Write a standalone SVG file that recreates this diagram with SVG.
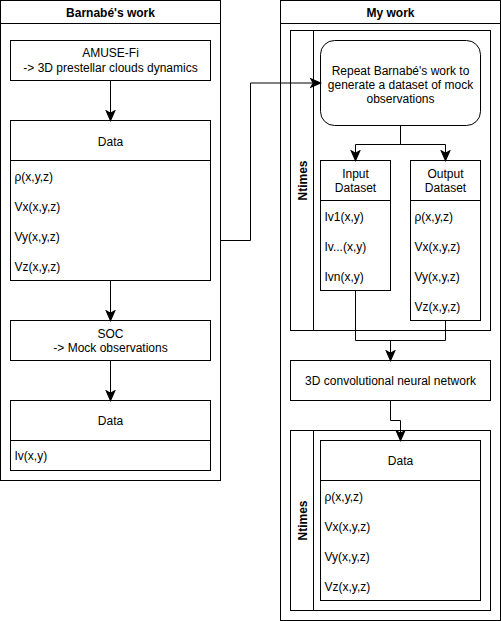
<svg xmlns="http://www.w3.org/2000/svg" width="501" height="621" viewBox="0 0 501 621">
  <style>
    .box { fill: #ffffff; stroke: #000000; stroke-width: 1; }
    .ln { fill: none; stroke: #000000; stroke-width: 1; }
    .edge { fill: none; stroke: #000000; stroke-width: 1; marker-end: url(#arrow); }
    text { font-family: "Liberation Sans", Arial, Helvetica, sans-serif; font-size: 12px; fill: #000000; }
    .c { text-anchor: middle; }
    .b { font-weight: bold; }
  </style>
  <defs>
    <marker id="arrow" markerUnits="userSpaceOnUse" markerWidth="12" markerHeight="12" viewBox="-9 -5 10 10" refX="0" refY="0" orient="auto">
      <path d="M -8 -3.5 L 0 0 L -8 3.5 L -6 0 Z" fill="#000000" stroke="#000000" stroke-width="1" stroke-linejoin="miter"/>
    </marker>
  </defs>

  <g transform="translate(0.5,0.5)">
    <!-- Left lane: Barnabé's work -->
    <g id="lane-barnabe">
      <rect class="box" x="0" y="0" width="220" height="480"/>
      <line class="ln" x1="0" y1="23" x2="220" y2="23"/>
      <text class="c b" x="110" y="16">Barnabé's work</text>
    </g>

    <g id="amuse">
      <rect class="box" x="10" y="40" width="200" height="40"/>
      <text class="c" x="110" y="56.5">AMUSE-Fi</text>
      <text class="c" x="110" y="71">-&gt; 3D prestellar clouds dynamics</text>
    </g>

    <g id="data-3d">
      <rect class="box" x="10" y="120" width="200" height="160"/>
      <line class="ln" x1="10" y1="160" x2="210" y2="160"/>
      <text class="c" x="110" y="145">Data</text>
      <text x="14" y="180.5">ρ(x,y,z)</text>
      <text x="14" y="210.5">Vx(x,y,z)</text>
      <text x="14" y="240.5">Vy(x,y,z)</text>
      <text x="14" y="270.5">Vz(x,y,z)</text>
    </g>

    <g id="soc">
      <rect class="box" x="10" y="320" width="200" height="40"/>
      <text class="c" x="110" y="337">SOC</text>
      <text class="c" x="110" y="351.5">-&gt; Mock observations</text>
    </g>

    <g id="data-iv">
      <rect class="box" x="10" y="400" width="200" height="70"/>
      <line class="ln" x1="10" y1="440" x2="210" y2="440"/>
      <text class="c" x="110" y="424.5">Data</text>
      <text x="14" y="459.5">Iv(x,y)</text>
    </g>

    <!-- Right lane: My work -->
    <g id="lane-mine">
      <rect class="box" x="280" y="0" width="220" height="620"/>
      <line class="ln" x1="280" y1="23" x2="500" y2="23"/>
      <text class="c b" x="390" y="16">My work</text>
    </g>

    <g id="loop-dataset">
      <rect class="box" x="290" y="30" width="200" height="300"/>
      <line class="ln" x1="313" y1="30" x2="313" y2="330"/>
      <text class="c b" transform="translate(306,180) rotate(-90)">Ntimes</text>
    </g>

    <g id="repeat">
      <rect class="box" x="320" y="40" width="160" height="85" rx="14" ry="14"/>
      <text class="c" x="400" y="74">Repeat Barnabé's work to</text>
      <text class="c" x="400" y="88">generate a dataset of mock</text>
      <text class="c" x="400" y="102">observations</text>
    </g>

    <g id="input-dataset">
      <rect class="box" x="320" y="160" width="70" height="130"/>
      <line class="ln" x1="320" y1="200" x2="390" y2="200"/>
      <text class="c" x="355" y="177.5">Input</text>
      <text class="c" x="355" y="191.5">Dataset</text>
      <text x="324" y="220.5">Iv1(x,y)</text>
      <text x="324" y="250.5">Iv...(x,y)</text>
      <text x="324" y="280.5">Ivn(x,y)</text>
    </g>

    <g id="output-dataset">
      <rect class="box" x="410" y="160" width="70" height="160"/>
      <line class="ln" x1="410" y1="200" x2="480" y2="200"/>
      <text class="c" x="445" y="177.5">Output</text>
      <text class="c" x="445" y="191.5">Dataset</text>
      <text x="414" y="220.5">ρ(x,y,z)</text>
      <text x="414" y="250.5">Vx(x,y,z)</text>
      <text x="414" y="280.5">Vy(x,y,z)</text>
      <text x="414" y="310.5">Vz(x,y,z)</text>
    </g>

    <g id="cnn">
      <rect class="box" x="290" y="360" width="200" height="40"/>
      <text class="c" x="390" y="384.5">3D convolutional neural network</text>
    </g>

    <g id="loop-prediction">
      <rect class="box" x="290" y="430" width="200" height="180"/>
      <line class="ln" x1="313" y1="430" x2="313" y2="610"/>
      <text class="c b" transform="translate(306,520) rotate(-90)">Ntimes</text>
    </g>

    <g id="data-predicted">
      <rect class="box" x="320" y="440" width="160" height="160"/>
      <line class="ln" x1="320" y1="480" x2="480" y2="480"/>
      <text class="c" x="400" y="464.5">Data</text>
      <text x="324" y="500.5">ρ(x,y,z)</text>
      <text x="324" y="530.5">Vx(x,y,z)</text>
      <text x="324" y="560.5">Vy(x,y,z)</text>
      <text x="324" y="590.5">Vz(x,y,z)</text>
    </g>

    <!-- Connectors -->
    <g id="connectors">
      <path class="edge" d="M 110 80 V 120"/>
      <path class="edge" d="M 110 280 V 320"/>
      <path class="edge" d="M 110 360 V 400"/>
      <path class="edge" d="M 220 240 H 250 V 82.5 H 320"/>
      <path class="edge" d="M 400 125 V 144 H 355 V 160"/>
      <path class="edge" d="M 400 125 V 144 H 445 V 160"/>
      <path class="ln" d="M 355 290 V 340 H 445 V 320"/>
      <path class="edge" d="M 390 340 V 360"/>
      <path class="edge" d="M 390 400 V 420 H 400 V 440"/>
    </g>
  </g>
</svg>
